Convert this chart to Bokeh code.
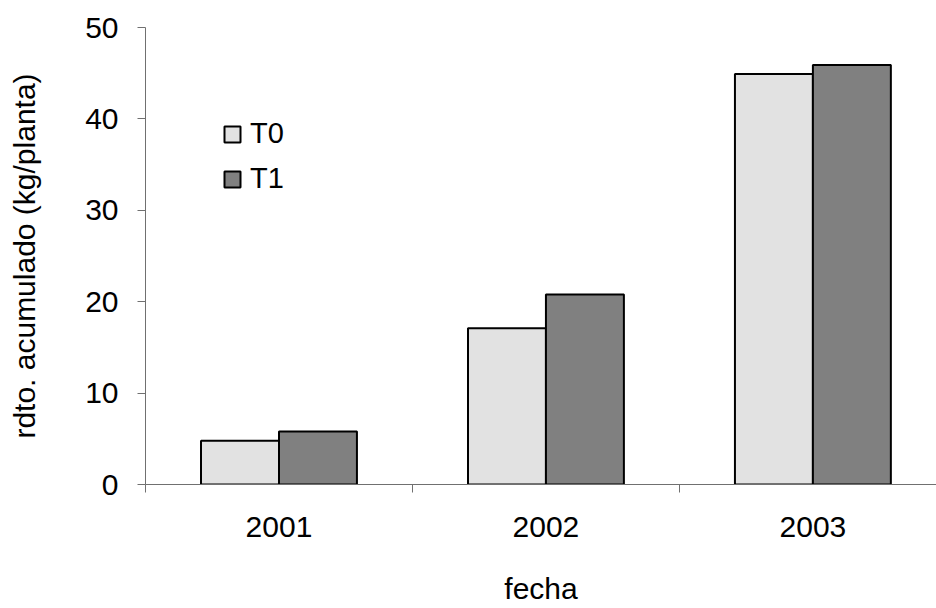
from bokeh.plotting import figure
from bokeh.models import Range1d, FixedTicker, ColumnDataSource, Legend, LegendItem
from bokeh.embed import file_html
from bokeh.resources import INLINE

years = ["2001", "2002", "2003"]
t0 = [4.8, 17.1, 44.9]
t1 = [5.8, 20.8, 45.9]
series_names = ["T0", "T1"]
y_ticks = [0, 10, 20, 30, 40, 50]

FONT = "Liberation Sans"
bar_w = 0.292
idx = list(range(len(years)))

src0 = ColumnDataSource(dict(x=[i + 0.5 - bar_w / 2 for i in idx], top=t0))
src1 = ColumnDataSource(dict(x=[i + 0.5 + bar_w / 2 for i in idx], top=t1))

p = figure(width=936, height=608, output_backend="svg", toolbar_location=None,
           x_range=Range1d(0, 2.963), y_range=Range1d(0, 50),
           min_border_left=145, min_border_right=0, min_border_top=27, min_border_bottom=124)
p.outline_line_color = None
p.grid.grid_line_color = None
p.background_fill_color = "white"
p.border_fill_color = "white"

r0 = p.vbar(x="x", top="top", width=bar_w, bottom=0, source=src0,
            fill_color="#e2e2e2", line_color="black", line_width=2)
r1 = p.vbar(x="x", top="top", width=bar_w, bottom=0, source=src1,
            fill_color="#808080", line_color="black", line_width=2)

# x axis
p.xaxis.ticker = FixedTicker(ticks=[i + 0.5 for i in idx], minor_ticks=[0, 1, 2, 3])
p.xaxis.major_label_overrides = {i + 0.5: y for i, y in zip(idx, years)}
p.xaxis.major_tick_out = 0
p.xaxis.major_tick_in = 0
p.xaxis.minor_tick_out = 8
p.xaxis.minor_tick_in = 0
p.xaxis.minor_tick_line_color = "#707070"
p.xaxis.major_label_standoff = 24
p.xaxis.axis_label = "fecha"
p.xaxis.axis_label_standoff = 32

# y axis
p.yaxis.ticker = FixedTicker(ticks=y_ticks, minor_ticks=[])
p.yaxis.major_tick_out = 8
p.yaxis.major_tick_in = 0
p.yaxis.major_label_standoff = 19
p.yaxis.axis_label = "rdto. acumulado (kg/planta)"
p.yaxis.axis_label_standoff = 41

for ax in (p.xaxis, p.yaxis):
    ax.axis_line_color = "#707070"
    ax.major_tick_line_color = "#707070"
    ax.major_label_text_font = FONT
    ax.major_label_text_font_size = "30px"
    ax.major_label_text_color = "black"
    ax.axis_label_text_font = FONT
    ax.axis_label_text_font_size = "30px"
    ax.axis_label_text_font_style = "normal"
    ax.axis_label_text_color = "black"

legend = Legend(items=[LegendItem(label=series_names[0], renderers=[r0]),
                       LegendItem(label=series_names[1], renderers=[r1])],
                location=(77, 289), orientation="vertical",
                background_fill_alpha=0, border_line_color=None,
                padding=0, margin=0, spacing=12,
                glyph_width=20, glyph_height=20, label_height=20,
                label_standoff=8, label_text_color="black",
                label_text_font=FONT, label_text_font_size="29px")
p.add_layout(legend)

open("out.html", "w").write(file_html(p, INLINE))
